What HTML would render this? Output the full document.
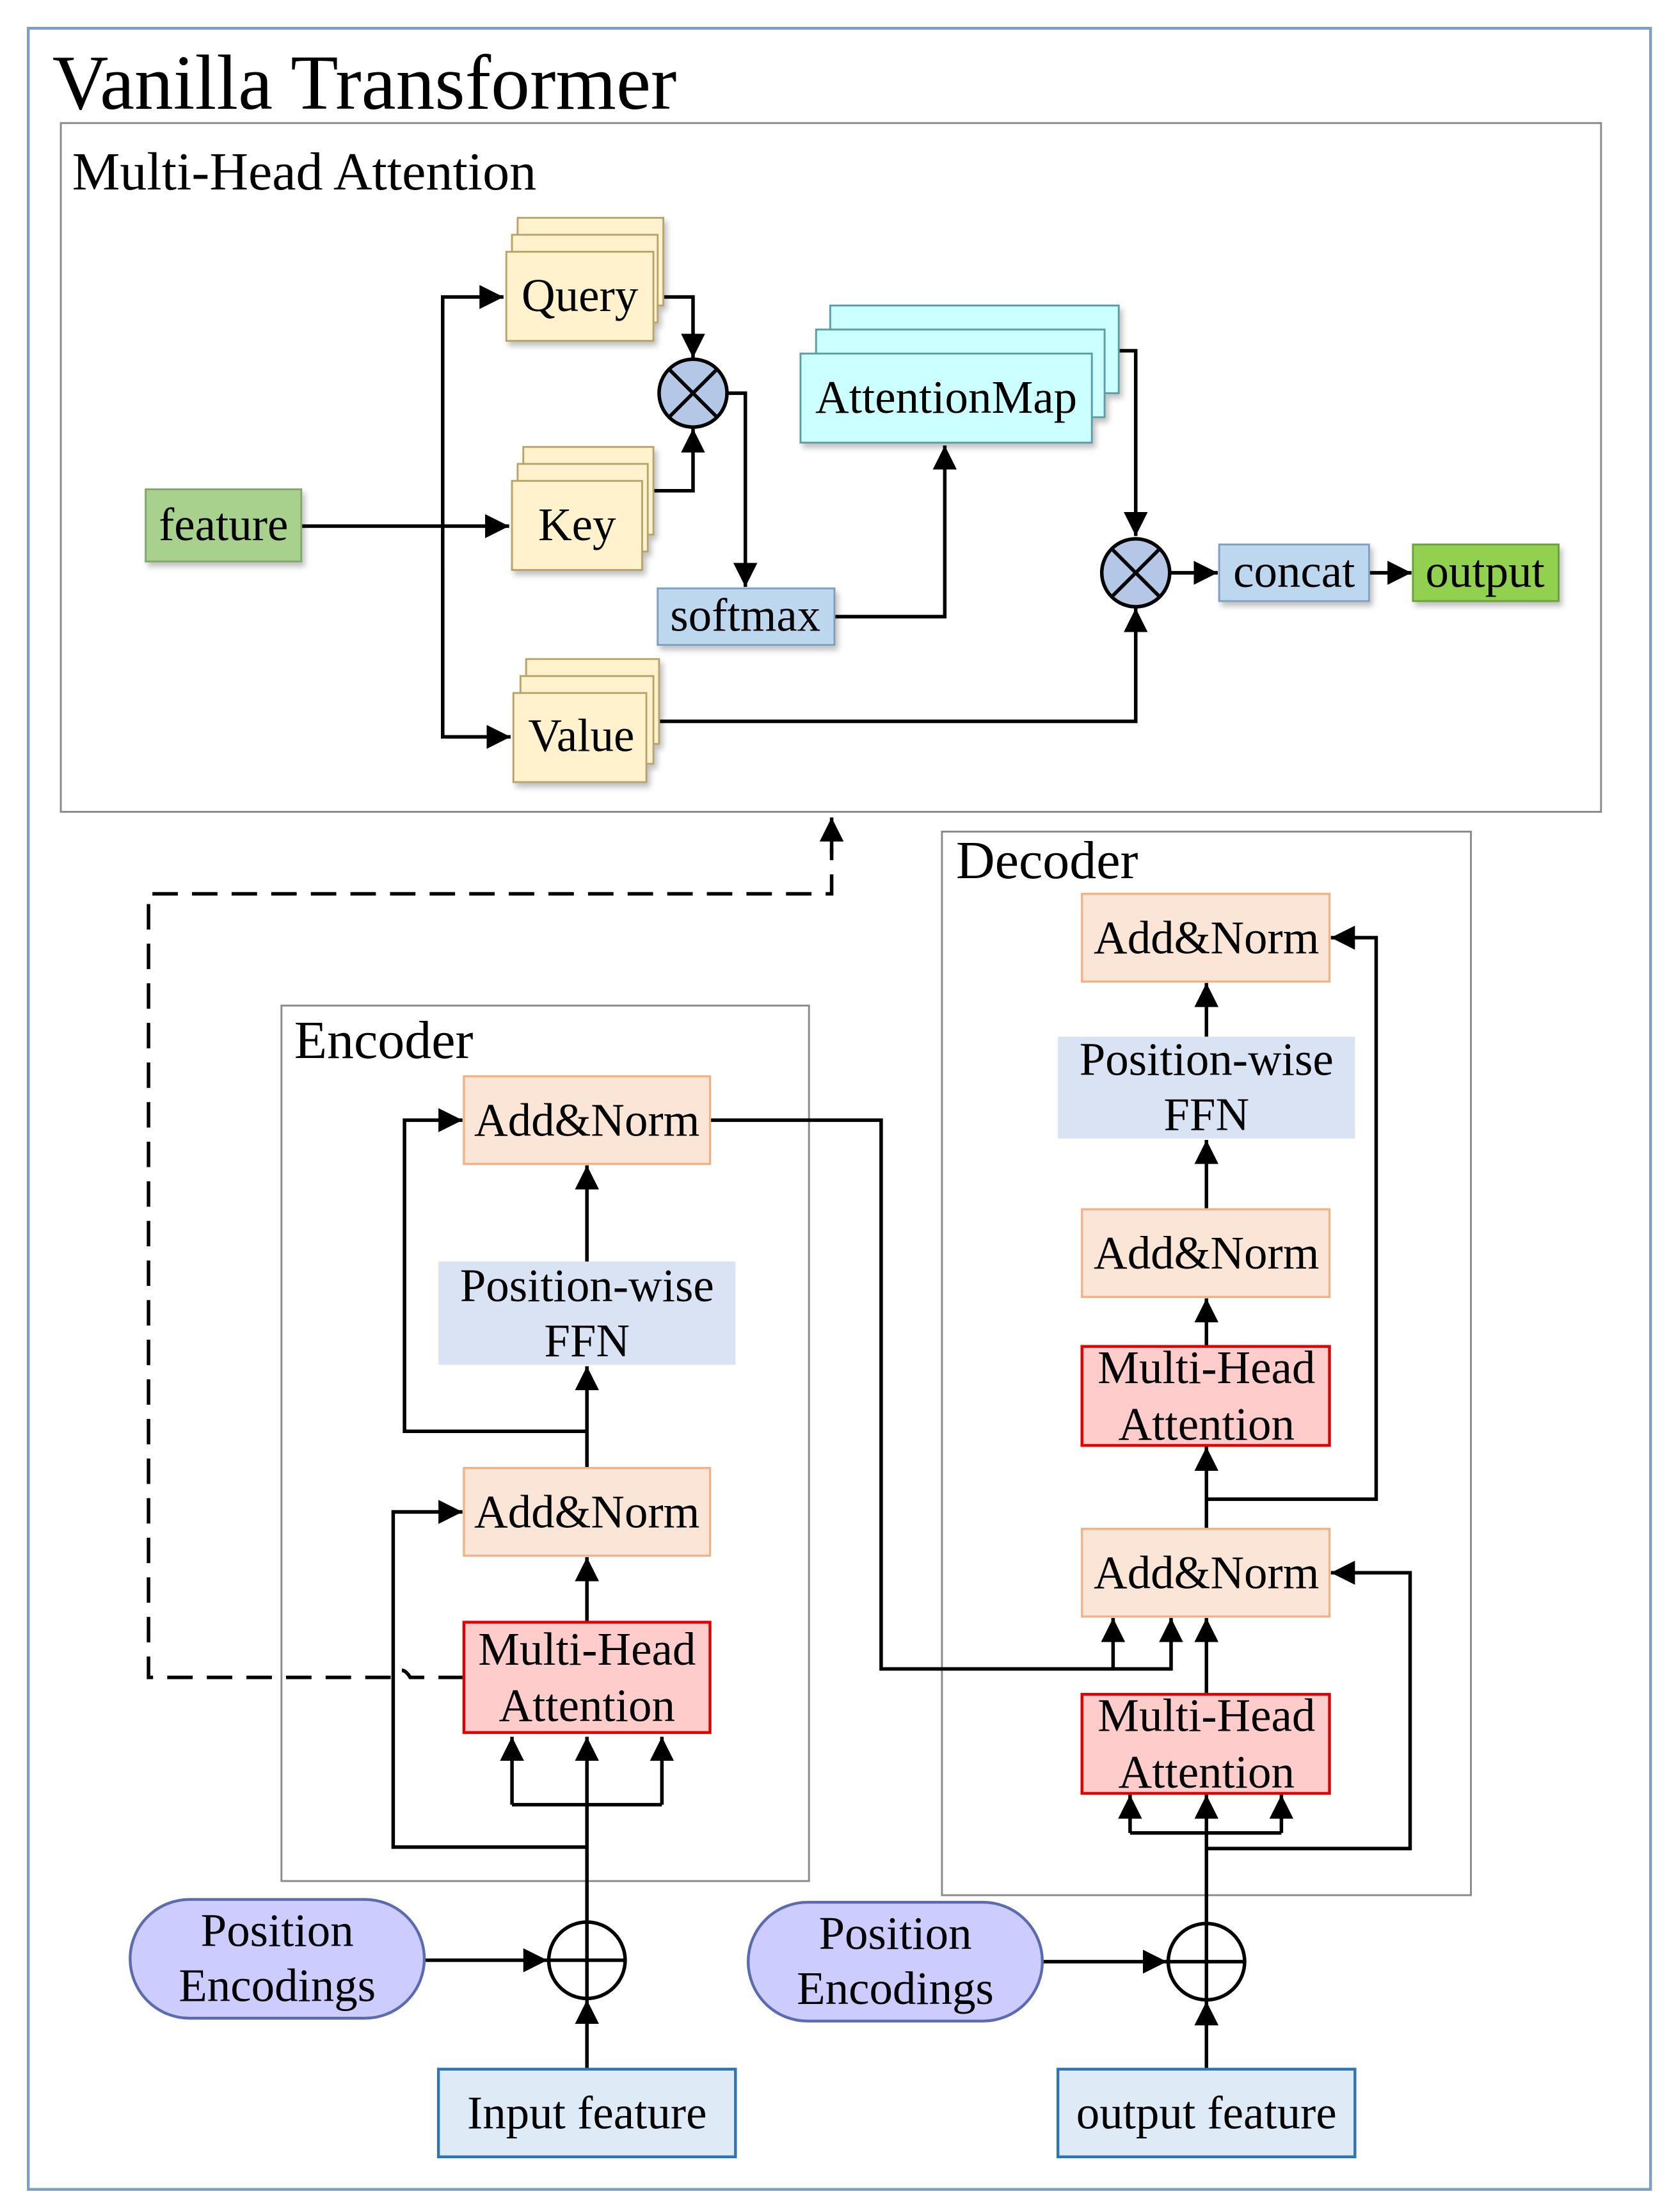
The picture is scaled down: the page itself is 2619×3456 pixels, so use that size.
<!DOCTYPE html>
<html><head><meta charset="utf-8">
<style>
html,body{margin:0;padding:0;background:#fff;}
svg{display:block;}
text{font-family:"Liberation Serif",serif;fill:#000;}
</style></head>
<body>
<svg width="2619" height="3456" viewBox="0 0 1185 1564" preserveAspectRatio="none" xmlns="http://www.w3.org/2000/svg">
<defs>
<marker id="b" viewBox="0 0 10 10" refX="10" refY="5" markerWidth="17" markerHeight="17" markerUnits="userSpaceOnUse" orient="auto">
<path d="M0,0 L10,5 L0,10 z" fill="#000"/></marker>
<filter id="sh" x="-10%" y="-10%" width="130%" height="140%"><feDropShadow dx="2" dy="3" stdDeviation="2" flood-color="#000" flood-opacity="0.25"/></filter>
</defs>
<rect x="20" y="20" width="1147" height="1528" fill="none" stroke="#7f9fc0" stroke-width="2"/>
<text x="37" y="77" font-size="55">Vanilla Transformer</text>

<rect x="43" y="87" width="1089" height="487" fill="none" stroke="#888" stroke-width="1.3"/>
<text x="51" y="134" font-size="38">Multi-Head Attention</text>

<g stroke="#000" stroke-width="2.5" fill="none">
<path d="M213,372 H360" marker-end="url(#b)"/>
<path d="M313,521 V210 H356" marker-end="url(#b)"/>
<path d="M313,400 V521 H361" marker-end="url(#b)"/>
<path d="M462,210 H490 V253" marker-end="url(#b)"/>
<path d="M454,347 H490 V303" marker-end="url(#b)"/>
<path d="M514,278 H527 V415" marker-end="url(#b)"/>
<path d="M590,436 H668 V315" marker-end="url(#b)"/>
<path d="M791,248 H803 V379" marker-end="url(#b)"/>
<path d="M466,510 H803 V430" marker-end="url(#b)"/>
<path d="M827,405 H861" marker-end="url(#b)"/>
<path d="M968,405 H998" marker-end="url(#b)"/>
</g>

<g filter="url(#sh)">
<rect x="103" y="346" width="110" height="51" fill="#a9d18e" stroke="#7fa867" stroke-width="1.3"/>
<rect x="366" y="154" width="103" height="62" fill="#fff2cc" stroke="#b8a36a" stroke-width="1.3"/>
<rect x="362" y="166" width="103" height="62" fill="#fff2cc" stroke="#b8a36a" stroke-width="1.3"/>
<rect x="358" y="178" width="104" height="63" fill="#fff2cc" stroke="#b8a36a" stroke-width="1.3"/>
<rect x="370" y="316" width="92" height="62" fill="#fff2cc" stroke="#b8a36a" stroke-width="1.3"/>
<rect x="366" y="328" width="92" height="62" fill="#fff2cc" stroke="#b8a36a" stroke-width="1.3"/>
<rect x="362" y="340" width="92" height="63" fill="#fff2cc" stroke="#b8a36a" stroke-width="1.3"/>
<rect x="372" y="466" width="94" height="60" fill="#fff2cc" stroke="#b8a36a" stroke-width="1.3"/>
<rect x="368" y="478" width="94" height="62" fill="#fff2cc" stroke="#b8a36a" stroke-width="1.3"/>
<rect x="363" y="490" width="94" height="63" fill="#fff2cc" stroke="#b8a36a" stroke-width="1.3"/>
<rect x="587" y="216" width="204" height="62" fill="#ccffff" stroke="#5a9ca8" stroke-width="1.3"/>
<rect x="577" y="233" width="204" height="62" fill="#ccffff" stroke="#5a9ca8" stroke-width="1.3"/>
<rect x="566" y="250" width="206" height="63" fill="#ccffff" stroke="#5a9ca8" stroke-width="1.3"/>
<rect x="465" y="416" width="125" height="40" fill="#bdd7ee" stroke="#7f9fc0" stroke-width="1.3"/>
<rect x="862" y="385" width="106" height="40" fill="#bdd7ee" stroke="#7f9fc0" stroke-width="1.3"/>
<rect x="999" y="385" width="103" height="40" fill="#92d050" stroke="#6aa040" stroke-width="1.3"/>
</g>
<g font-size="33" text-anchor="middle">
<text x="158" y="382">feature</text>
<text x="410" y="220">Query</text>
<text x="408" y="382">Key</text>
<text x="411" y="531">Value</text>
<text x="669" y="292">AttentionMap</text>
<text x="527" y="446">softmax</text>
<text x="915" y="415">concat</text>
<text x="1050" y="415">output</text>
</g>
<g fill="#b4c7e7" stroke="#000" stroke-width="2.5">
<circle cx="490" cy="278" r="24"/><circle cx="803" cy="405" r="24"/>
</g>
<g stroke="#000" stroke-width="2.5">
<path d="M473,261 L507,295 M507,261 L473,295"/>
<path d="M786,388 L820,422 M820,388 L786,422"/>
</g>

<path d="M328,1186 H290 Q284,1176 278,1186 H105 V632 H588 V600" fill="none" stroke="#000" stroke-width="2.5" stroke-dasharray="18,10"/>
<path d="M588,604 V578" stroke="#000" stroke-width="2.5" marker-end="url(#b)"/>

<rect x="199" y="711" width="373" height="619" fill="none" stroke="#888" stroke-width="1.3"/>
<text x="208" y="748" font-size="38">Encoder</text>
<rect x="666" y="588" width="374" height="752" fill="none" stroke="#888" stroke-width="1.3"/>
<text x="676" y="621" font-size="38">Decoder</text>

<g stroke="#000" stroke-width="2.5" fill="none">
<path d="M415,1463 V1414" marker-end="url(#b)"/>
<path d="M300,1386 H387" marker-end="url(#b)"/>
<path d="M415,1359 V1228" marker-end="url(#b)"/>
<path d="M362,1276 H468"/>
<path d="M362,1276 V1228" marker-end="url(#b)"/>
<path d="M468,1276 V1228" marker-end="url(#b)"/>
<path d="M415,1306 H278 V1069 H327" marker-end="url(#b)"/>
<path d="M415,1147 V1101" marker-end="url(#b)"/>
<path d="M415,1038 V966" marker-end="url(#b)"/>
<path d="M415,1012 H286 V792 H327" marker-end="url(#b)"/>
<path d="M415,892 V824" marker-end="url(#b)"/>
<path d="M502,792 H623 V1180 H828 V1144" marker-end="url(#b)"/>
<path d="M787,1180 V1144" marker-end="url(#b)"/>
<path d="M853,1463 V1415" marker-end="url(#b)"/>
<path d="M737,1387 H825" marker-end="url(#b)"/>
<path d="M853,1360 V1269" marker-end="url(#b)"/>
<path d="M799,1296 H906"/>
<path d="M799,1296 V1269" marker-end="url(#b)"/>
<path d="M906,1296 V1269" marker-end="url(#b)"/>
<path d="M853,1307 H997 V1112 H941" marker-end="url(#b)"/>
<path d="M853,1198 V1144" marker-end="url(#b)"/>
<path d="M853,1081 V1023" marker-end="url(#b)"/>
<path d="M853,1060 H973 V663 H941" marker-end="url(#b)"/>
<path d="M853,952 V918" marker-end="url(#b)"/>
<path d="M853,855 V806" marker-end="url(#b)"/>
<path d="M853,733 V695" marker-end="url(#b)"/>
</g>

<g stroke-width="1.5">
<rect x="328" y="761" width="174" height="62" fill="#fbe5d6" stroke="#f4b183"/>
<rect x="310" y="892" width="210" height="73" fill="#dae3f3" stroke="none"/>
<rect x="328" y="1038" width="174" height="62" fill="#fbe5d6" stroke="#f4b183"/>
<rect x="328" y="1147" width="174" height="78" fill="#ffcccc" stroke="#e00000" stroke-width="2"/>
<rect x="310" y="1463" width="210" height="62" fill="#deebf7" stroke="#2e75b6" stroke-width="2"/>
<rect x="92" y="1343" width="208" height="84" rx="42" fill="#ccccff" stroke="#5b6bb0" stroke-width="2"/>
<rect x="765" y="632" width="175" height="62" fill="#fbe5d6" stroke="#f4b183"/>
<rect x="748" y="733" width="210" height="72" fill="#dae3f3" stroke="none"/>
<rect x="765" y="855" width="175" height="62" fill="#fbe5d6" stroke="#f4b183"/>
<rect x="765" y="952" width="175" height="70" fill="#ffcccc" stroke="#e00000" stroke-width="2"/>
<rect x="765" y="1081" width="175" height="62" fill="#fbe5d6" stroke="#f4b183"/>
<rect x="765" y="1198" width="175" height="70" fill="#ffcccc" stroke="#e00000" stroke-width="2"/>
<rect x="748" y="1463" width="210" height="62" fill="#deebf7" stroke="#2e75b6" stroke-width="2"/>
<rect x="529" y="1345" width="208" height="84" rx="42" fill="#ccccff" stroke="#5b6bb0" stroke-width="2"/>
</g>
<g fill="#fff" stroke="#000" stroke-width="2.5">
<circle cx="415" cy="1386" r="27"/><circle cx="853" cy="1387" r="27"/>
</g>
<g stroke="#000" stroke-width="2.5">
<path d="M388,1386 H442 M415,1359 V1413"/>
<path d="M826,1387 H880 M853,1360 V1414"/>
</g>

<g font-size="33" text-anchor="middle">
<text x="415" y="803">Add&amp;Norm</text>
<text x="415" y="920">Position-wise</text>
<text x="415" y="959">FFN</text>
<text x="415" y="1080">Add&amp;Norm</text>
<text x="415" y="1177">Multi-Head</text>
<text x="415" y="1217">Attention</text>
<text x="415" y="1505">Input feature</text>
<text x="196" y="1376">Position</text>
<text x="196" y="1415">Encodings</text>
<text x="853" y="674">Add&amp;Norm</text>
<text x="853" y="760">Position-wise</text>
<text x="853" y="799">FFN</text>
<text x="853" y="897">Add&amp;Norm</text>
<text x="853" y="978">Multi-Head</text>
<text x="853" y="1018">Attention</text>
<text x="853" y="1123">Add&amp;Norm</text>
<text x="853" y="1224">Multi-Head</text>
<text x="853" y="1264">Attention</text>
<text x="853" y="1505">output feature</text>
<text x="633" y="1378">Position</text>
<text x="633" y="1417">Encodings</text>
</g>
</svg>
</body></html>
